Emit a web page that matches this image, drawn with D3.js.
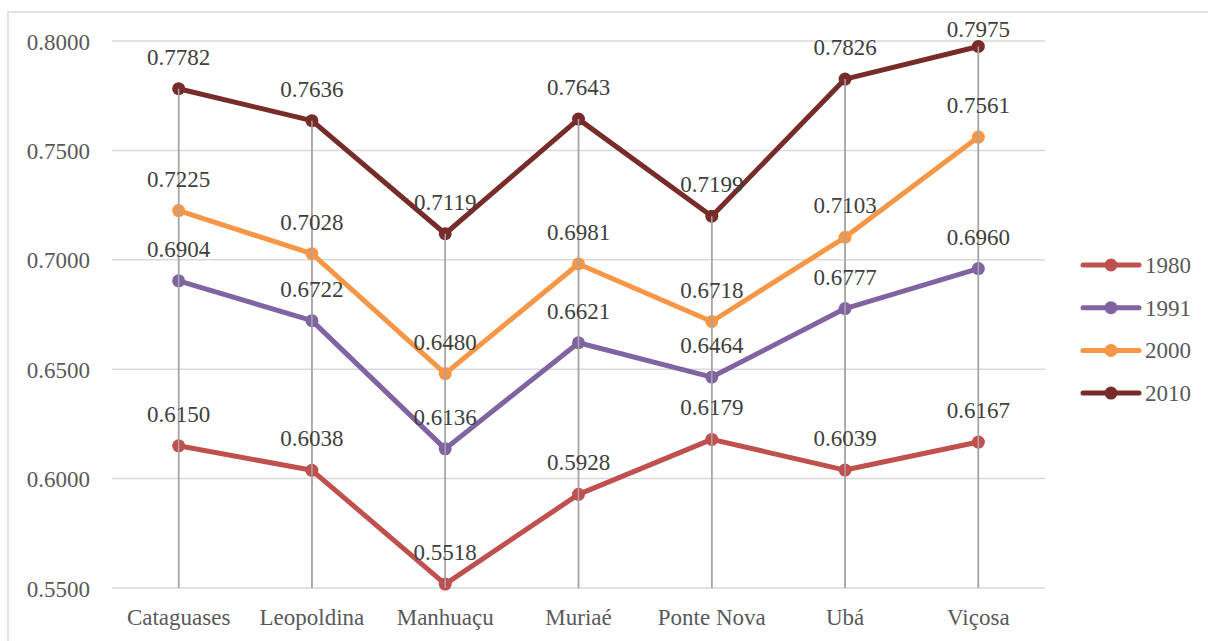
<!DOCTYPE html>
<html>
<head>
<meta charset="utf-8">
<script src="https://cdn.jsdelivr.net/npm/d3@7/dist/d3.min.js"></script>
<style>
  html, body { margin: 0; padding: 0; background: #fff; }
  svg { display: block; }
  text { font-family: "Liberation Serif", "Times New Roman", serif; }
</style>
</head>
<body>
<svg id="chart" width="1208" height="641"></svg>
<script>
// Municipalities along the x axis
const categories = ["Cataguases", "Leopoldina", "Manhuaçu", "Muriaé", "Ponte Nova", "Ubá", "Viçosa"];

// Index values per census year
const years = ["1980", "1991", "2000", "2010"];
const values1980 = [0.6150, 0.6038, 0.5518, 0.5928, 0.6179, 0.6039, 0.6167];
const values1991 = [0.6904, 0.6722, 0.6136, 0.6621, 0.6464, 0.6777, 0.6960];
const values2000 = [0.7225, 0.7028, 0.6480, 0.6981, 0.6718, 0.7103, 0.7561];
const values2010 = [0.7782, 0.7636, 0.7119, 0.7643, 0.7199, 0.7826, 0.7975];

// Y axis ticks
const yTicks = [0.55, 0.60, 0.65, 0.70, 0.75, 0.80];

const colors = ["#C0504D", "#8064A2", "#F79646", "#772C2A"];

const series = [
  { name: years[0], values: values1980, color: colors[0] },
  { name: years[1], values: values1991, color: colors[1] },
  { name: years[2], values: values2000, color: colors[2] },
  { name: years[3], values: values2010, color: colors[3] }
];

const svg = d3.select("#chart");

// outer chart frame
svg.append("rect")
  .attr("x", 8).attr("y", 12)
  .attr("width", 1220).attr("height", 660)
  .attr("fill", "#fff")
  .attr("stroke", "#D9D9D9")
  .attr("stroke-width", 1.5);

const plot = { left: 112, right: 1045, top: 41, bottom: 588 };

const x = d3.scaleBand()
  .domain(categories)
  .range([plot.left, plot.right]);

const y = d3.scaleLinear()
  .domain([0.55, 0.80])
  .range([plot.bottom, plot.top]);

const cx = c => x(c) + x.bandwidth() / 2;

// horizontal gridlines
svg.append("g")
  .selectAll("line")
  .data(yTicks)
  .join("line")
  .attr("x1", plot.left).attr("x2", plot.right)
  .attr("y1", d => y(d)).attr("y2", d => y(d))
  .attr("stroke", "#D9D9D9")
  .attr("stroke-width", 1.5);

// y axis labels
const yAxis = d3.axisLeft(y).tickValues(yTicks).tickFormat(d3.format(".4f")).tickSize(0).tickPadding(0);
const yG = svg.append("g").attr("transform", `translate(90,0)`).call(yAxis);
yG.select(".domain").remove();
yG.selectAll("text")
  .attr("font-family", "Liberation Serif, Times New Roman, serif")
  .attr("font-size", 23)
  .attr("fill", "#595959")
  .attr("dy", "0.35em");

// x axis labels
const xAxis = d3.axisBottom(x).tickSize(0).tickPadding(0);
const xG = svg.append("g").attr("transform", `translate(0,${plot.bottom + 37})`).call(xAxis);
xG.select(".domain").remove();
xG.selectAll("text")
  .attr("font-family", "Liberation Serif, Times New Roman, serif")
  .attr("font-size", 23)
  .attr("fill", "#595959")
  .attr("dy", 0)
  .attr("y", 0);

// drop lines from the highest point of each category down to the baseline
const maxima = categories.map((c, i) => d3.max(series, s => s.values[i]));
svg.append("g")
  .selectAll("line")
  .data(categories)
  .join("line")
  .attr("x1", d => cx(d)).attr("x2", d => cx(d))
  .attr("y1", (d, i) => y(maxima[i]))
  .attr("y2", plot.bottom)
  .attr("stroke", "#A6A6A6")
  .attr("stroke-width", 1.5);

// series lines and markers
const line = d3.line()
  .x((d, i) => cx(categories[i]))
  .y(d => y(d));

const sg = svg.append("g")
  .selectAll("g")
  .data(series)
  .join("g");

sg.append("path")
  .attr("d", d => line(d.values))
  .attr("fill", "none")
  .attr("stroke", d => d.color)
  .attr("stroke-width", 5)
  .attr("stroke-linejoin", "round")
  .attr("stroke-linecap", "round");

sg.selectAll("circle")
  .data(d => d.values.map(v => ({ v, color: d.color })))
  .join("circle")
  .attr("cx", (d, i) => cx(categories[i]))
  .attr("cy", d => y(d.v))
  .attr("r", 6.5)
  .attr("fill", d => d.color);

// redraw drop lines over the markers (thin line visible through the dot)
svg.append("g")
  .selectAll("line")
  .data(categories)
  .join("line")
  .attr("x1", d => cx(d)).attr("x2", d => cx(d))
  .attr("y1", (d, i) => y(maxima[i]))
  .attr("y2", plot.bottom)
  .attr("stroke", "#A6A6A6")
  .attr("stroke-width", 1.5);

// value labels above each point, kept inside the frame
const lg = svg.append("g");
series.forEach(s => {
  lg.selectAll(null)
    .data(s.values)
    .join("text")
    .attr("x", (d, i) => cx(categories[i]))
    .attr("y", d => Math.max(y(d) - 24, 37))
    .attr("text-anchor", "middle")
    .attr("font-size", 23)
    .attr("fill", "#404040")
    .text(d => d3.format(".4f")(d));
});

// legend
const legend = svg.append("g")
  .selectAll("g")
  .data(series)
  .join("g")
  .attr("transform", (d, i) => `translate(1083,${265 + i * 42.7})`);

legend.append("line")
  .attr("x1", 0).attr("x2", 56)
  .attr("stroke", d => d.color)
  .attr("stroke-width", 5)
  .attr("stroke-linecap", "round");

legend.append("circle")
  .attr("cx", 28).attr("r", 6.5)
  .attr("fill", d => d.color);

legend.append("text")
  .attr("x", 62)
  .attr("dy", "0.35em")
  .attr("font-size", 23)
  .attr("fill", "#595959")
  .text(d => d.name);
</script>
</body>
</html>
